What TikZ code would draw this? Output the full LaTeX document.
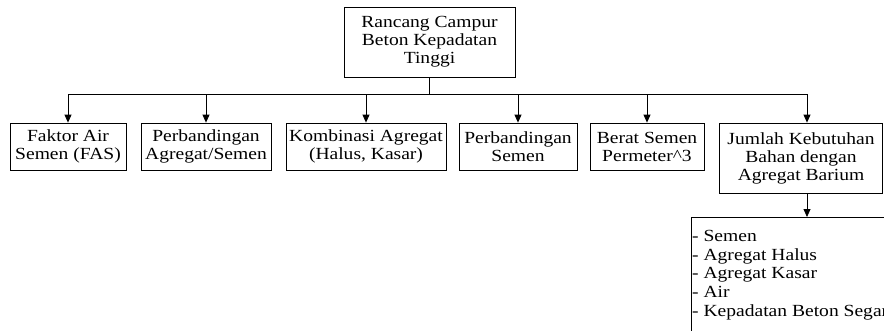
\documentclass[tikz,border=0pt]{standalone}
\usepackage{fontspec}
\setmainfont{Liberation Serif}[FakeStretch=1.15]
\usepackage{tikz}
\usetikzlibrary{calc, positioning, arrows.meta}

\tikzset{
  kotak/.style={draw, line width=0.8pt, align=center, inner sep=1pt,
    font=\fontsize{17}{18}\selectfont},
  panah/.style={line width=0.8pt, -{Triangle[width=7pt,length=8pt]}},
  garis/.style={line width=0.8pt}
}

\begin{document}
\begin{tikzpicture}[x=1pt, y=-1pt]
  \useasboundingbox (0,0) rectangle (884,330);
  \clip (0,0) rectangle (884,330);
  \node[kotak, minimum width=171, minimum height=70] (atas) at (429.5,42) {Rancang Campur\\Beton Kepadatan\\Tinggi};
  \node[kotak, minimum width=116, minimum height=47] (fas) at (68,146.5) {Faktor Air\\Semen (FAS)};
  \node[kotak, minimum width=130, minimum height=47] (agsem) at (206,146.5) {Perbandingan\\Agregat/Semen};
  \node[kotak, minimum width=160, minimum height=47] (kombi) at (366,146.5) {Kombinasi Agregat\\(Halus, Kasar)};
  \node[kotak, minimum width=118, minimum height=47] (bsem) at (518,146.5) {Perbandingan\\Semen};
  \node[kotak, minimum width=114, minimum height=47] (berat) at (647,146.5) {Berat Semen\\Permeter\textasciicircum 3};
  \node[kotak, minimum width=163, minimum height=70] (jumlah) at (801,158) {Jumlah Kebutuhan\\Bahan dengan\\Agregat Barium};
  \node[kotak, minimum width=230, minimum height=130, anchor=north west] (bahan) at (691,217) {};
  \node[font=\fontsize{17}{18.7}\selectfont, align=left, inner sep=0pt, anchor=north west] (daftar)
    at ([shift={(1pt,-13pt)}]bahan.north west) {- Semen\\- Agregat Halus\\- Agregat Kasar\\- Air\\- Kepadatan Beton Segar};

  \coordinate (cabang) at (atas.south |- 0,94);
  \draw[garis] (atas.south) -- (cabang);
  \draw[panah] (cabang) -| (fas.north);
  \draw[panah] (cabang) -| (agsem.north);
  \draw[panah] (cabang) -| (kombi.north);
  \draw[panah] (cabang) -| (bsem.north);
  \draw[panah] (cabang) -| (berat.north);
  \draw[panah] (cabang) -| ([xshift=6pt]jumlah.north);
  \draw[panah] ([xshift=6pt]jumlah.south) -- ([xshift=6pt]jumlah.south |- bahan.north);
\end{tikzpicture}
\end{document}
